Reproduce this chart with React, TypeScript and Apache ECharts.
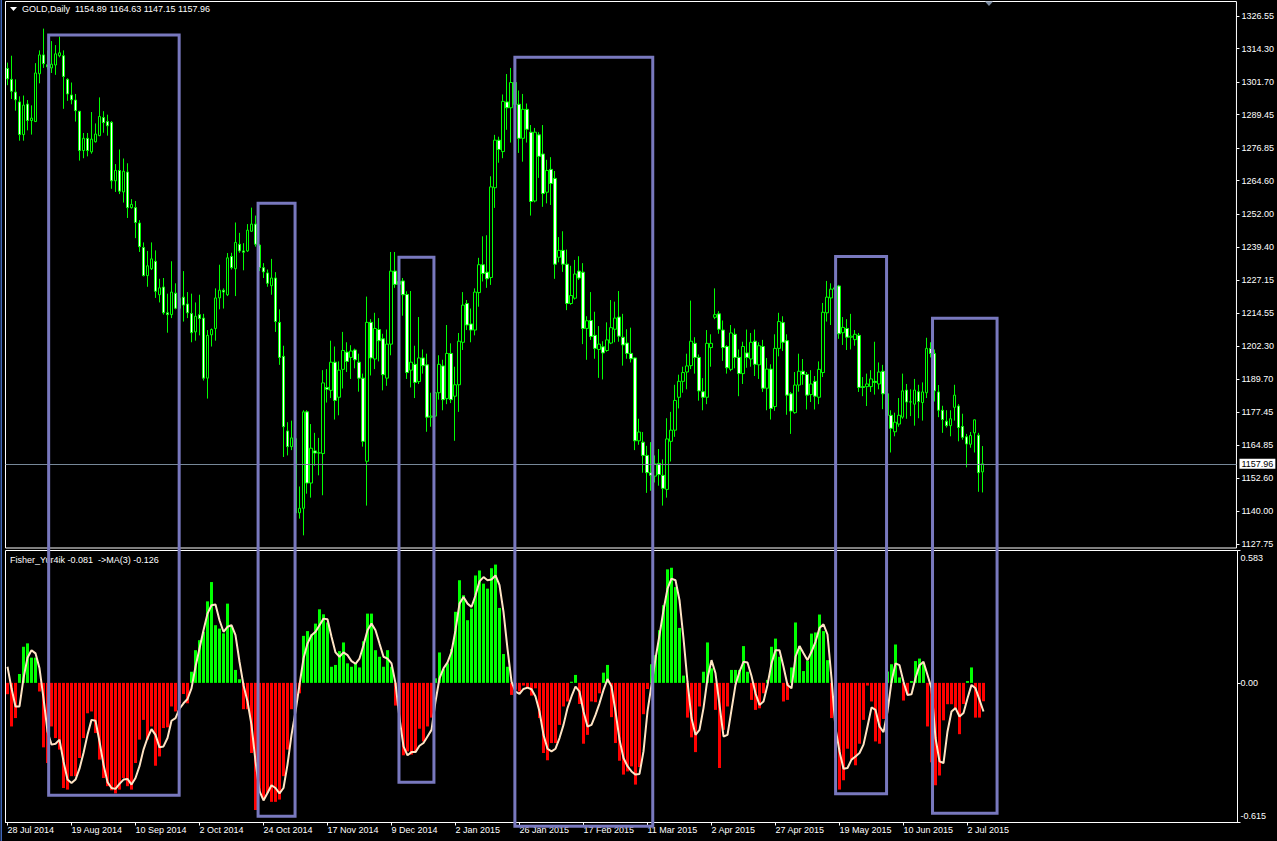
import React, { useEffect, useRef } from 'react';
import * as echarts from 'echarts';

const FONT = "'Liberation Sans', Arial, sans-serif";

const dateLabels = ['28 Jul 2014', '19 Aug 2014', '10 Sep 2014', '2 Oct 2014', '24 Oct 2014', '17 Nov 2014', '9 Dec 2014', '2 Jan 2015', '26 Jan 2015', '17 Feb 2015', '11 Mar 2015', '2 Apr 2015', '27 Apr 2015', '19 May 2015', '10 Jun 2015', '2 Jul 2015'];
const priceTicks = [1326.55, 1314.3, 1301.7, 1289.45, 1276.85, 1264.6, 1252.0, 1239.4, 1227.15, 1214.55, 1202.3, 1189.7, 1177.45, 1164.85, 1152.6, 1140.0, 1127.75];
const fisherTicks = [0.583, 0, -0.615];
const headerText = 'GOLD,Daily  1154.89 1164.63 1147.15 1157.96';
const fisherText = 'Fisher_Yur4ik -0.081  ->MA(3) -0.126';
const lastPrice = 1157.96;

const openP = [
  1306.8, 1302.7, 1297.9, 1294.2, 1281.9, 1293.4, 1287.2, 1286.8, 1304.8, 1311.9,
  1308.2, 1307.0, 1308.1, 1311.6, 1311.6, 1302.7, 1296.8, 1294.9, 1290.7, 1275.9,
  1280.5, 1275.4, 1279.2, 1281.5, 1288.3, 1286.8, 1286.5, 1264.5, 1268.4, 1260.3,
  1267.8, 1254.4, 1254.4, 1248.6, 1239.4, 1228.8, 1231.4, 1234.2, 1221.6, 1224.5,
  1214.8, 1214.1, 1222.2, 1216.5, 1220.7, 1218.1, 1214.5, 1207.6, 1214.1, 1212.8,
  1190.2, 1206.5, 1208.9, 1220.4, 1223.3, 1221.6, 1236.0, 1231.4, 1240.6, 1238.1,
  1238.1, 1245.5, 1248.2, 1240.3, 1231.8, 1229.8, 1225.0, 1227.9, 1211.2, 1198.4,
  1170.3, 1164.4, 1167.4, 1139.5, 1141.2, 1177.5, 1150.7, 1162.8, 1162.0, 1161.8,
  1186.7, 1185.6, 1196.2, 1183.0, 1193.5, 1200.0, 1198.0, 1200.8, 1196.2, 1190.2,
  1158.9, 1211.2, 1197.4, 1208.5, 1205.0, 1190.2, 1203.0, 1230.5, 1225.5, 1226.8,
  1221.7, 1193.2, 1195.4, 1188.9, 1197.8, 1195.2, 1175.5, 1175.9, 1184.7, 1194.8,
  1182.5, 1199.5, 1183.4, 1187.7, 1203.7, 1218.3, 1210.6, 1208.3, 1222.4, 1232.9,
  1230.1, 1228.1, 1261.9, 1279.8, 1275.5, 1294.2, 1292.0, 1301.5, 1293.3, 1280.5,
  1291.4, 1282.8, 1256.9, 1281.8, 1274.6, 1260.2, 1268.8, 1265.4, 1235.7, 1238.3,
  1233.1, 1218.3, 1220.3, 1230.5, 1230.1, 1208.9, 1211.9, 1206.3, 1201.0, 1202.0,
  1200.6, 1203.4, 1208.6, 1213.2, 1205.6, 1203.4, 1199.5, 1197.8, 1166.6, 1166.1,
  1161.1, 1154.6, 1153.3, 1158.1, 1153.6, 1148.3, 1166.4, 1170.6, 1183.0, 1189.0,
  1192.5, 1194.9, 1203.3, 1198.0, 1185.1, 1183.0, 1201.7, 1213.1, 1214.4, 1208.3,
  1202.1, 1193.5, 1206.7, 1198.0, 1191.9, 1199.7, 1197.4, 1204.1, 1195.2, 1202.1,
  1186.4, 1193.6, 1179.5, 1201.4, 1211.1, 1204.3, 1184.3, 1177.2, 1187.6, 1192.8,
  1191.6, 1184.0, 1189.0, 1183.0, 1192.3, 1214.8, 1220.4, 1223.7, 1224.9, 1207.3,
  1208.9, 1205.6, 1204.7, 1206.3, 1187.0, 1187.0, 1187.0, 1189.0, 1188.0, 1192.8,
  1184.3, 1176.2, 1170.0, 1172.9, 1175.5, 1185.7, 1181.2, 1180.4, 1185.1, 1181.0,
  1184.7, 1201.4, 1199.5, 1185.0, 1178.1, 1174.0, 1172.3, 1179.2, 1179.7, 1172.0,
  1168.1, 1165.3, 1169.6, 1168.7, 1154.89,
];

const highP = [
  1309.0, 1311.6, 1302.7, 1296.3, 1296.6, 1294.9, 1292.9, 1308.8, 1313.6, 1321.8,
  1313.6, 1317.1, 1315.6, 1318.8, 1313.6, 1303.1, 1301.5, 1297.2, 1290.7, 1282.5,
  1282.5, 1290.4, 1286.1, 1295.9, 1290.7, 1289.4, 1287.0, 1270.8, 1276.3, 1272.9,
  1271.1, 1257.6, 1256.9, 1249.7, 1241.3, 1238.1, 1241.3, 1238.3, 1227.6, 1227.9,
  1222.0, 1234.2, 1225.9, 1221.1, 1230.5, 1222.6, 1222.0, 1218.7, 1221.6, 1214.4,
  1208.3, 1208.9, 1224.0, 1232.9, 1224.0, 1237.3, 1237.4, 1248.8, 1244.9, 1241.0,
  1248.2, 1254.4, 1251.4, 1240.7, 1233.5, 1231.1, 1235.1, 1230.1, 1216.1, 1202.4,
  1173.6, 1174.2, 1168.3, 1149.4, 1178.1, 1178.1, 1172.9, 1169.6, 1167.7, 1193.2,
  1193.6, 1204.3, 1202.1, 1196.5, 1207.6, 1203.7, 1202.6, 1201.3, 1199.4, 1191.9,
  1220.9, 1212.4, 1214.8, 1212.8, 1206.9, 1208.5, 1237.7, 1237.7, 1228.5, 1227.9,
  1222.9, 1223.0, 1202.4, 1213.2, 1201.0, 1199.4, 1184.7, 1185.4, 1198.8, 1197.1,
  1210.2, 1203.3, 1194.5, 1207.2, 1222.6, 1219.6, 1216.4, 1224.0, 1235.5, 1243.6,
  1244.0, 1266.2, 1281.8, 1281.1, 1297.0, 1304.7, 1307.0, 1306.4, 1298.5, 1297.2,
  1293.6, 1285.5, 1284.4, 1282.8, 1285.5, 1272.4, 1273.4, 1268.2, 1243.3, 1245.5,
  1238.6, 1232.5, 1234.7, 1236.1, 1233.5, 1213.5, 1222.6, 1215.2, 1209.8, 1204.1,
  1211.2, 1219.6, 1219.0, 1223.0, 1214.4, 1208.6, 1209.2, 1198.0, 1174.9, 1169.9,
  1164.7, 1166.1, 1161.1, 1163.5, 1159.6, 1175.1, 1177.5, 1187.7, 1191.5, 1194.5,
  1199.4, 1219.4, 1205.6, 1199.1, 1190.2, 1208.3, 1206.7, 1224.0, 1215.4, 1211.9,
  1202.6, 1210.2, 1208.9, 1201.0, 1203.9, 1208.5, 1207.2, 1208.5, 1203.7, 1204.6,
  1197.8, 1195.4, 1206.7, 1214.8, 1213.5, 1206.7, 1185.0, 1192.5, 1199.4, 1197.4,
  1192.5, 1193.2, 1191.0, 1196.5, 1218.5, 1226.8, 1225.9, 1225.5, 1225.3, 1213.2,
  1212.4, 1214.4, 1208.3, 1207.2, 1190.6, 1191.9, 1193.2, 1203.9, 1196.1, 1195.2,
  1186.0, 1178.1, 1177.2, 1182.7, 1191.9, 1188.0, 1186.0, 1189.9, 1187.7, 1188.6,
  1205.4, 1203.7, 1201.0, 1187.6, 1179.8, 1178.1, 1178.1, 1187.7, 1180.4, 1176.8,
  1169.2, 1169.9, 1174.6, 1169.6, 1164.63,
];

const lowP = [
  1300.5, 1295.3, 1290.9, 1279.6, 1279.6, 1283.5, 1281.9, 1286.8, 1301.2, 1307.0,
  1306.4, 1305.1, 1304.4, 1311.0, 1291.6, 1294.6, 1293.3, 1286.8, 1272.1, 1273.0,
  1273.7, 1274.7, 1278.9, 1281.3, 1282.6, 1281.5, 1261.5, 1260.3, 1259.5, 1256.3,
  1250.5, 1254.0, 1242.9, 1237.7, 1228.5, 1224.6, 1230.9, 1220.4, 1218.7, 1214.1,
  1207.3, 1212.8, 1216.1, 1214.8, 1211.5, 1212.8, 1203.7, 1204.3, 1206.3, 1189.3,
  1182.5, 1202.1, 1204.3, 1216.1, 1216.4, 1221.1, 1231.1, 1221.1, 1237.4, 1230.8,
  1237.7, 1245.3, 1239.7, 1230.5, 1227.9, 1224.6, 1221.6, 1207.6, 1195.2, 1160.5,
  1161.1, 1163.1, 1138.9, 1137.3, 1131.0, 1146.7, 1145.2, 1157.2, 1153.6, 1146.1,
  1181.0, 1182.7, 1174.6, 1176.2, 1186.3, 1192.5, 1189.9, 1193.9, 1185.1, 1164.4,
  1142.2, 1191.2, 1193.6, 1196.5, 1185.6, 1187.3, 1198.8, 1224.2, 1223.3, 1213.7,
  1189.9, 1186.7, 1182.7, 1188.0, 1191.9, 1170.0, 1171.9, 1174.2, 1182.1, 1178.1,
  1180.4, 1180.8, 1166.6, 1177.5, 1200.8, 1208.3, 1203.7, 1206.3, 1217.1, 1226.6,
  1224.2, 1225.3, 1254.3, 1271.3, 1273.0, 1283.7, 1278.9, 1291.4, 1275.0, 1271.7,
  1278.9, 1251.4, 1256.4, 1265.6, 1254.7, 1256.0, 1255.4, 1227.6, 1233.8, 1230.2,
  1215.8, 1217.8, 1219.8, 1227.2, 1203.0, 1197.1, 1204.6, 1197.5, 1190.3, 1189.7,
  1200.1, 1203.0, 1203.7, 1203.9, 1194.9, 1197.5, 1196.1, 1163.1, 1165.1, 1154.6,
  1147.0, 1147.8, 1150.9, 1149.7, 1142.2, 1145.2, 1158.8, 1168.1, 1178.8, 1184.7,
  1186.0, 1193.6, 1191.9, 1181.7, 1178.1, 1180.4, 1194.5, 1212.4, 1206.9, 1196.7,
  1191.9, 1192.8, 1193.9, 1183.4, 1188.0, 1194.1, 1194.5, 1191.0, 1189.9, 1185.0,
  1178.1, 1174.6, 1177.9, 1198.4, 1200.4, 1176.4, 1169.2, 1176.8, 1185.1, 1187.7,
  1178.4, 1181.2, 1178.4, 1180.4, 1190.6, 1211.5, 1210.2, 1223.3, 1205.0, 1202.7,
  1200.8, 1201.0, 1202.4, 1185.0, 1183.4, 1179.7, 1185.0, 1184.0, 1186.0, 1178.5,
  1174.2, 1162.2, 1168.3, 1171.9, 1174.9, 1174.9, 1175.9, 1172.3, 1175.1, 1174.2,
  1182.7, 1198.0, 1181.4, 1175.5, 1169.6, 1171.6, 1168.3, 1174.2, 1166.4, 1167.0,
  1156.6, 1164.0, 1162.2, 1147.4, 1147.15,
];

const closeP = [
  1302.9, 1298.2, 1295.0, 1281.9, 1293.0, 1287.2, 1288.1, 1305.1, 1311.9, 1308.6,
  1307.4, 1308.4, 1312.3, 1312.7, 1303.8, 1297.2, 1295.0, 1290.9, 1275.9, 1280.5,
  1275.9, 1280.2, 1282.1, 1288.7, 1286.4, 1285.2, 1264.5, 1268.4, 1260.6, 1268.1,
  1254.4, 1255.6, 1248.8, 1239.7, 1228.8, 1232.5, 1235.1, 1222.9, 1224.2, 1214.8,
  1214.1, 1222.6, 1216.5, 1220.3, 1217.7, 1214.8, 1207.3, 1213.5, 1212.6, 1190.2,
  1206.3, 1208.5, 1220.4, 1223.3, 1222.6, 1235.5, 1231.8, 1241.3, 1238.1, 1237.6,
  1245.9, 1248.2, 1240.6, 1231.8, 1230.2, 1225.9, 1227.9, 1211.5, 1198.0, 1171.9,
  1164.4, 1167.7, 1139.5, 1141.2, 1177.5, 1150.7, 1163.8, 1162.0, 1162.1, 1188.4,
  1186.0, 1196.2, 1181.8, 1193.2, 1200.6, 1196.5, 1200.4, 1197.1, 1190.2, 1166.4,
  1211.2, 1197.8, 1208.9, 1204.3, 1191.5, 1203.0, 1230.5, 1225.5, 1226.6, 1221.6,
  1192.3, 1196.2, 1188.6, 1197.8, 1194.9, 1175.5, 1175.9, 1184.7, 1195.4, 1182.1,
  1199.5, 1182.1, 1187.7, 1204.1, 1217.7, 1210.2, 1208.3, 1222.6, 1232.9, 1229.6,
  1227.6, 1262.2, 1279.8, 1276.3, 1294.4, 1292.0, 1301.5, 1293.3, 1280.5, 1291.4,
  1283.9, 1256.7, 1282.8, 1273.7, 1259.7, 1268.4, 1263.5, 1233.1, 1238.3, 1233.1,
  1218.3, 1221.3, 1229.4, 1227.9, 1208.9, 1211.8, 1205.9, 1201.4, 1203.0, 1199.7,
  1204.6, 1209.2, 1212.8, 1206.0, 1202.7, 1199.5, 1197.5, 1166.6, 1169.9, 1161.1,
  1154.6, 1153.6, 1157.9, 1153.9, 1148.7, 1167.3, 1170.6, 1181.8, 1189.0, 1192.3,
  1194.8, 1204.1, 1198.0, 1185.4, 1183.0, 1203.3, 1203.3, 1214.1, 1208.6, 1201.7,
  1194.1, 1207.2, 1198.0, 1191.9, 1202.1, 1198.0, 1203.7, 1195.4, 1202.4, 1186.4,
  1193.6, 1178.8, 1201.4, 1211.5, 1203.7, 1183.8, 1177.8, 1187.6, 1192.8, 1191.6,
  1183.8, 1188.0, 1183.4, 1193.5, 1215.0, 1220.7, 1223.7, 1224.2, 1206.9, 1209.3,
  1205.6, 1206.0, 1206.7, 1186.7, 1186.7, 1188.0, 1189.9, 1188.6, 1192.5, 1184.3,
  1176.2, 1171.3, 1173.6, 1176.2, 1185.4, 1181.2, 1181.3, 1185.7, 1181.4, 1185.0,
  1201.4, 1199.5, 1185.4, 1178.1, 1174.6, 1172.3, 1174.9, 1183.8, 1171.6, 1167.9,
  1165.4, 1168.6, 1174.5, 1154.6, 1157.96,
];

const fisherValues = [
  -0.05, -0.192, -0.155, 0.039, 0.159, 0.174, 0.111, 0.111, -0.038, -0.284,
  -0.353, -0.192, -0.243, -0.294, -0.463, -0.47, -0.411, -0.411, -0.331, -0.243,
  -0.134, -0.126, -0.221, -0.338, -0.419, -0.455, -0.473, -0.487, -0.47, -0.419,
  -0.455, -0.47, -0.353, -0.25, -0.163, -0.25, -0.192, -0.365, -0.324, -0.199,
  -0.196, -0.104, -0.126, -0.09, -0.049, -0.09, 0.049, 0.144, 0.188, 0.225,
  0.359, 0.444, 0.254, 0.239, 0.218, 0.349, 0.251, 0.057, 0.016, -0.116,
  -0.116, -0.309, -0.56, -0.485, -0.507, -0.485, -0.524, -0.524, -0.514, -0.411,
  -0.294, -0.116, -0.08, -0.046, 0.207, 0.228, 0.213, 0.261, 0.324, 0.302,
  0.266, 0.071, 0.079, 0.14, 0.178, 0.086, 0.071, 0.086, 0.068, 0.183,
  0.305, 0.305, 0.144, 0.115, 0.071, 0.144, 0.071, -0.1, -0.2, -0.319,
  -0.302, -0.316, -0.3, -0.202, -0.258, -0.192, -0.153, 0.02, 0.134, 0.06,
  0.086, 0.149, 0.313, 0.452, 0.386, 0.276, 0.327, 0.473, 0.495, 0.437,
  0.415, 0.505, 0.521, 0.33, 0.127, 0.071, -0.053, -0.03, -0.038, -0.012,
  -0.024, -0.056, -0.024, -0.155, -0.309, -0.341, -0.265, -0.265, -0.185, -0.104,
  -0.082, 0.005, 0.035, -0.093, -0.268, -0.229, -0.082, -0.085, -0.046, 0.045,
  0.079, -0.151, -0.265, -0.343, -0.404, -0.39, -0.368, -0.448, -0.371, -0.138,
  -0.027, 0.082, 0.122, 0.232, 0.342, 0.5, 0.507, 0.422, 0.242, 0.032,
  -0.153, -0.24, -0.305, -0.104, 0.049, 0.178, 0.064, -0.119, -0.375, -0.207,
  -0.104, 0.057, 0.057, 0.057, 0.162, 0.049, -0.075, -0.119, -0.112, -0.046,
  0.013, 0.159, 0.195, 0.115, -0.082, -0.075, 0.068, 0.266, 0.162, 0.052,
  0.097, 0.217, 0.222, 0.301, 0.228, 0.1, -0.155, -0.33, -0.47, -0.429,
  -0.29, -0.338, -0.363, -0.268, -0.163, -0.012, -0.082, -0.258, -0.268, -0.159,
  0.05, 0.082, 0.169, 0.024, -0.078, -0.05, 0.008, 0.096, 0.107, 0.086,
  -0.192, -0.35, -0.451, -0.408, -0.165, -0.094, -0.094, -0.115, -0.226, -0.093,
  0.008, 0.068, -0.153, -0.153, -0.081,
];

const fisherMA = [
  0.071, -0.024, -0.104, -0.104, 0.02, 0.111, 0.144, 0.13, 0.064, -0.068,
  -0.214, -0.272, -0.268, -0.25, -0.346, -0.426, -0.441, -0.426, -0.378, -0.309,
  -0.229, -0.163, -0.167, -0.258, -0.36, -0.437, -0.463, -0.467, -0.445, -0.426,
  -0.423, -0.448, -0.419, -0.367, -0.294, -0.243, -0.204, -0.229, -0.284, -0.28,
  -0.243, -0.167, -0.155, -0.114, -0.09, -0.071, -0.024, 0.071, 0.151, 0.232,
  0.305, 0.342, 0.345, 0.276, 0.225, 0.247, 0.254, 0.21, 0.093, -0.01,
  -0.082, -0.185, -0.346, -0.477, -0.518, -0.485, -0.451, -0.463, -0.487, -0.463,
  -0.36, -0.229, -0.127, -0.009, 0.107, 0.173, 0.21, 0.225, 0.254, 0.283,
  0.28, 0.203, 0.134, 0.115, 0.134, 0.122, 0.096, 0.084, 0.107, 0.166,
  0.232, 0.261, 0.232, 0.173, 0.115, 0.107, 0.086, -0.002, -0.155, -0.28,
  -0.319, -0.305, -0.305, -0.277, -0.265, -0.236, -0.207, -0.082, 0.02, 0.064,
  0.09, 0.137, 0.232, 0.349, 0.378, 0.349, 0.334, 0.386, 0.447, 0.466,
  0.452, 0.455, 0.473, 0.43, 0.313, 0.15, 0.005, -0.039, -0.049, -0.027,
  -0.021, -0.028, -0.06, -0.126, -0.229, -0.29, -0.302, -0.29, -0.243, -0.185,
  -0.111, -0.06, -0.016, -0.039, -0.126, -0.192, -0.185, -0.141, -0.09, -0.031,
  0.017, -0.016, -0.126, -0.25, -0.331, -0.367, -0.39, -0.404, -0.401, -0.302,
  -0.126, -0.009, 0.107, 0.21, 0.32, 0.415, 0.459, 0.452, 0.364, 0.196,
  0.005, -0.155, -0.229, -0.207, -0.111, 0.02, 0.1, 0.042, -0.097, -0.236,
  -0.229, -0.119, -0.009, 0.049, 0.093, 0.09, 0.03, -0.046, -0.097, -0.082,
  -0.009, 0.086, 0.144, 0.144, 0.071, -0.009, -0.024, 0.115, 0.162, 0.13,
  0.1, 0.137, 0.181, 0.242, 0.258, 0.213, 0.02, -0.199, -0.302, -0.378,
  -0.375, -0.338, -0.324, -0.309, -0.272, -0.192, -0.108, -0.119, -0.192, -0.217,
  -0.126, 0.005, 0.086, 0.078, 0.005, -0.053, -0.05, 0.02, 0.078, 0.093,
  0.035, -0.024, -0.243, -0.346, -0.353, -0.214, -0.126, -0.111, -0.148, -0.133,
  -0.068, -0.009, -0.024, -0.075, -0.126,
];

// annotation boxes: bar-index span, top price (upper panel), bottom Fisher value (lower panel)
const boxStart = [10.3, 62.7, 97.95, 126.95, 207.2, 231.45];
const boxEnd = [42.95, 71.95, 106.7, 161.45, 219.95, 247.6];
const boxTop = [1319.4, 1256.0, 1235.7, 1311.0, 1236.0, 1212.7];
const boxBottom = [-0.495, -0.587, -0.438, -0.631, -0.488, -0.574];

const TOTAL_SLOTS = 308; // bars + chart shift space on the right
const LAST_TICK = (dateLabels.length - 1) * 16;

export default function App() {
  const ref = useRef<HTMLDivElement>(null);

  useEffect(() => {
    const chart = echarts.init(ref.current as HTMLDivElement, null, { renderer: 'svg' });
    const cats = Array.from({ length: TOTAL_SLOTS }, (_, i) => String(i));
    const candleData = openP.map((o, i) => [o, closeP[i], lowP[i], highP[i]]);
    const tickInterval = (i: number) => i % 16 === 0 && i <= LAST_TICK;

    chart.setOption({
      animation: false,
      backgroundColor: '#000000',
      grid: [
        { left: 5.5, top: 1.5, width: 1232, height: 546.5, show: true, borderColor: '#ffffff', borderWidth: 1, backgroundColor: '#000000' },
        { left: 5.5, top: 550.5, width: 1232, height: 272, show: true, borderColor: '#ffffff', borderWidth: 1, backgroundColor: '#000000' },
      ],
      xAxis: [
        {
          type: 'category', gridIndex: 0, data: cats, boundaryGap: true,
          axisLine: { show: false, onZero: false }, axisTick: { show: false }, axisLabel: { show: false }, splitLine: { show: false },
        },
        {
          type: 'category', gridIndex: 1, data: cats, boundaryGap: true, position: 'bottom',
          axisLine: { show: true, onZero: false, lineStyle: { color: '#ffffff', width: 1 } },
          axisTick: { show: true, alignWithLabel: true, interval: tickInterval, length: 3, lineStyle: { color: '#ffffff' } },
          axisLabel: {
            show: true, interval: tickInterval, align: 'left', margin: 3,
            color: '#ffffff', fontFamily: FONT, fontSize: 9,
            formatter: (_v: string, idx: number) => dateLabels[idx / 16] ?? '',
          },
          splitLine: { show: false },
        },
      ],
      yAxis: [
        {
          type: 'value', gridIndex: 0, position: 'right', min: 1126.24, max: 1332.01,
          splitLine: { show: false }, axisLine: { show: false },
          axisTick: { show: true, customValues: priceTicks, length: 3, lineStyle: { color: '#ffffff' } },
          axisLabel: {
            show: true, customValues: priceTicks, margin: 5, color: '#ffffff', fontFamily: FONT, fontSize: 9,
            formatter: (v: number) => v.toFixed(2),
          },
        },
        {
          type: 'value', gridIndex: 1, position: 'right', min: -0.615, max: 0.583,
          splitLine: { show: false }, axisLine: { show: false },
          axisTick: { show: true, customValues: fisherTicks, length: 3, lineStyle: { color: '#ffffff' } },
          axisLabel: {
            show: true, customValues: fisherTicks, margin: 3, color: '#ffffff', fontFamily: FONT, fontSize: 9,
            formatter: (v: number) => (v > 0.1 ? '{t|' + v.toFixed(3) + '}' : v < -0.1 ? '{b|' + v.toFixed(3) + '}' : v.toFixed(2)),
            rich: {
              t: { padding: [14, 0, 0, 0], color: '#ffffff', fontFamily: FONT, fontSize: 9 },
              b: { padding: [0, 0, 14, 0], color: '#ffffff', fontFamily: FONT, fontSize: 9 },
            },
          },
        },
      ],
      series: [
        {
          type: 'candlestick', xAxisIndex: 0, yAxisIndex: 0, data: candleData, barWidth: 3,
          itemStyle: {
            color: '#000000', color0: '#ffffff', borderColor: '#00ff00', borderColor0: '#00ff00',
            borderColorDoji: '#00ff00', borderWidth: 1,
          },
          markLine: {
            silent: true, symbol: 'none', animation: false,
            lineStyle: { color: '#778899', width: 1, type: 'solid' },
            label: {
              show: true, position: 'end', distance: 3, formatter: lastPrice.toFixed(2),
              backgroundColor: '#ffffff', color: '#000000', padding: [1, 2, 0, 2],
              fontFamily: FONT, fontSize: 9,
            },
            data: [{ yAxis: lastPrice }],
          },
          z: 2,
        },
        {
          type: 'bar', xAxisIndex: 1, yAxisIndex: 1, barWidth: 3,
          data: fisherValues.map((v) => ({ value: v, itemStyle: { color: v >= 0 ? '#00ff00' : '#ff0000' } })),
          z: 2,
        },
        {
          type: 'line', xAxisIndex: 1, yAxisIndex: 1, data: fisherMA, showSymbol: false, symbol: 'none',
          lineStyle: { color: '#ffe4c4', width: 2 }, z: 3,
        },
      ],
    });

    const x0 = chart.convertToPixel({ xAxisIndex: 0 }, 0) as number;
    const x1 = chart.convertToPixel({ xAxisIndex: 0 }, 1) as number;
    const xAt = (idx: number) => x0 + (x1 - x0) * idx;

    const boxes = boxStart.map((s, k) => {
      const left = xAt(s);
      const right = xAt(boxEnd[k]);
      const top = chart.convertToPixel({ yAxisIndex: 0 }, boxTop[k]) as number;
      const bottom = chart.convertToPixel({ yAxisIndex: 1 }, boxBottom[k]) as number;
      return {
        type: 'rect', z: 100, silent: true,
        shape: { x: left, y: top, width: right - left, height: bottom - top },
        style: { fill: 'none', stroke: '#7878be', lineWidth: 3 },
      };
    });

    chart.setOption({
      graphic: {
        elements: [
          { type: 'rect', z: 100, silent: true, shape: { x: 0.5, y: 0, width: 1.5, height: 841 }, style: { fill: '#3f66b8' } },
          { type: 'polygon', z: 100, silent: true, shape: { points: [[10, 7], [17, 7], [13.5, 11]] }, style: { fill: '#ffffff' } },
          {
            type: 'text', z: 100, silent: true, x: 22, y: 9,
            style: { text: headerText, fill: '#ffffff', font: `9px ${FONT}`, textVerticalAlign: 'middle' },
          },
          {
            type: 'text', z: 100, silent: true, x: 10, y: 559.5,
            style: { text: fisherText, fill: '#ffffff', font: `9px ${FONT}`, textVerticalAlign: 'middle' },
          },
          { type: 'polygon', z: 100, silent: true, shape: { points: [[985, 1.5], [993, 1.5], [989, 6]] }, style: { fill: '#7a8aa0' } },
          ...boxes,
        ],
      },
    });

    return () => chart.dispose();
  }, []);

  return (
    <div
      ref={ref}
      style={{ position: 'fixed', left: 0, top: 0, width: 1277, height: 841, background: '#000000' }}
    />
  );
}
